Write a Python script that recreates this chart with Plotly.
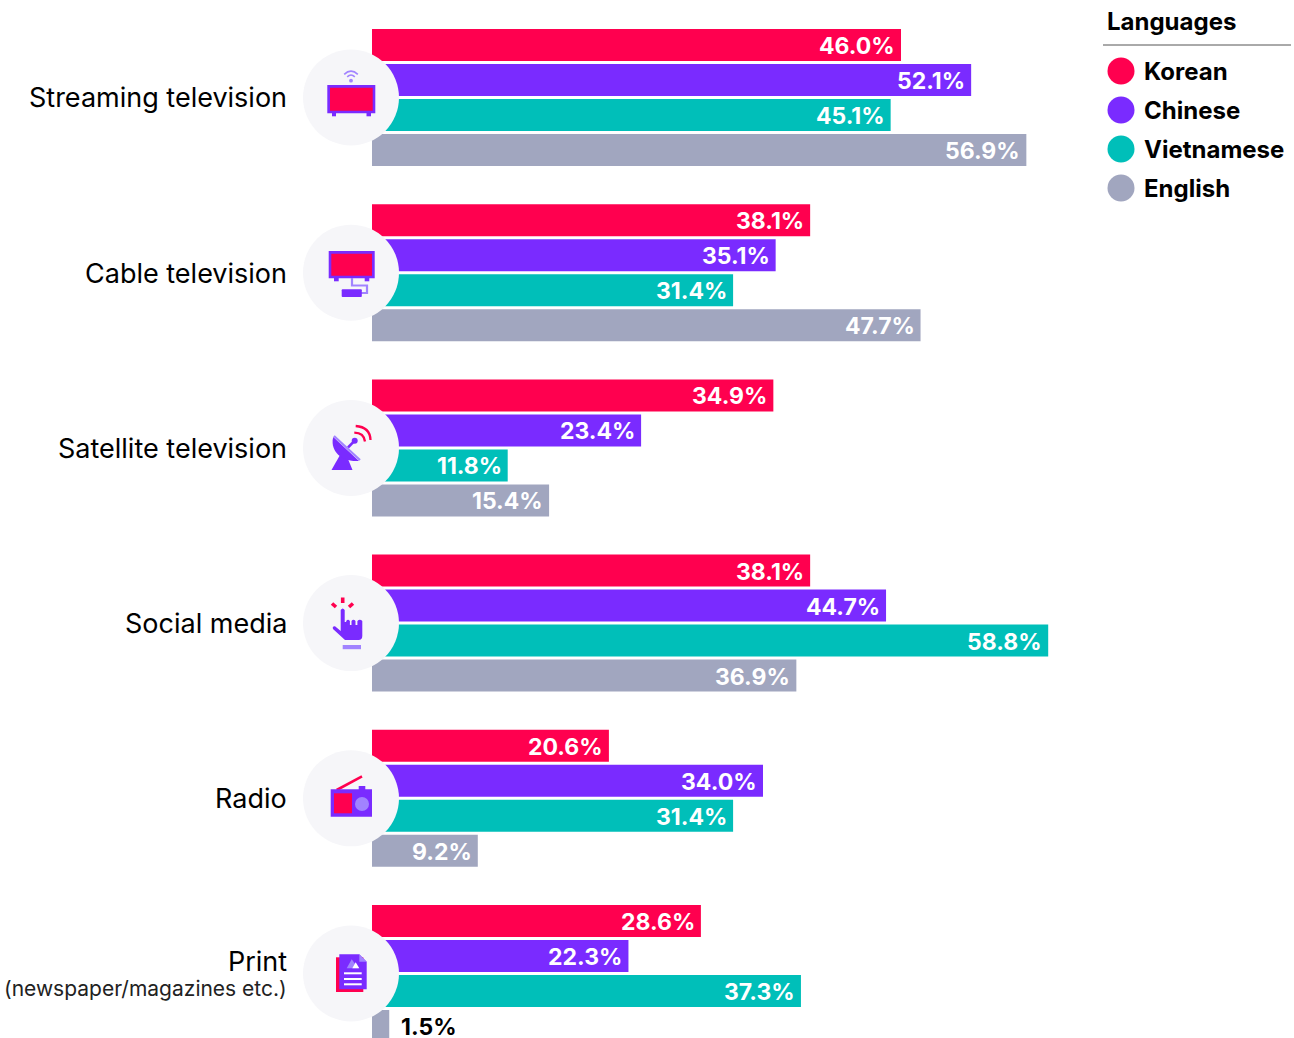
import re
import plotly.graph_objects as go

# Survey data: share of respondents by media channel and language
channels = ["Streaming television", "Cable television", "Satellite television",
            "Social media", "Radio", "Print"]
print_note = "(newspaper/magazines etc.)"
korean = [46.0, 38.1, 34.9, 38.1, 20.6, 28.6]
chinese = [52.1, 35.1, 23.4, 44.7, 34.0, 22.3]
vietnamese = [45.1, 31.4, 11.8, 58.8, 31.4, 37.3]
english = [56.9, 47.7, 15.4, 36.9, 9.2, 1.5]
languages = ["Korean", "Chinese", "Vietnamese", "English"]
series = [korean, chinese, vietnamese, english]

RED, PURPLE, TEAL, GRAY = "#FF004F", "#7A2BFF", "#00BFB9", "#A1A6BF"
LIGHT = "#A183FF"
colors = [RED, PURPLE, TEAL, GRAY]

W, H = 1294, 1038
BAR_LEFT = 372
PX_PER_UNIT = 11.5
GROUP_TOP, GROUP_PITCH, BAR_PITCH = 97.5, 175.2, 35.0
FONT = "Inter"


def px(x):
    return x / W


def py(y):
    return 1 - y / H


def path(d):
    """Convert a pixel-space SVG path into paper coordinates."""
    count = [0]

    def repl(m):
        v = float(m.group())
        i = count[0]
        count[0] += 1
        return f"{px(v) if i % 2 == 0 else py(v):.5f}"

    return re.sub(r"-?\d+\.?\d*", repl, d)


shapes = []


def fill(d, color):
    shapes.append(dict(type="path", xref="paper", yref="paper", path=path(d),
                       fillcolor=color, line=dict(width=0), layer="above"))


def stroke(d, color, width):
    shapes.append(dict(type="path", xref="paper", yref="paper", path=path(d),
                       line=dict(color=color, width=width), layer="above"))


def rect(x0, y0, x1, y1, color):
    fill(f"M {x0} {y0} L {x1} {y0} L {x1} {y1} L {x0} {y1} Z", color)


def circle(cx, cy, r, color):
    shapes.append(dict(type="circle", xref="paper", yref="paper",
                       x0=px(cx - r), x1=px(cx + r), y0=py(cy + r), y1=py(cy - r),
                       fillcolor=color, line=dict(width=0), layer="above"))


# Round backdrops behind the channel icons
for i in range(len(channels)):
    circle(351, GROUP_TOP + GROUP_PITCH * i, 48, "#F6F6F9")

# Streaming television icon
rect(327.3, 85, 375.3, 113.3, PURPLE)
rect(330, 87.7, 372.7, 110.7, RED)
rect(332, 113, 336, 116.3, PURPLE)
rect(366.5, 113, 371, 116.3, PURPLE)
circle(351, 80.7, 1.9, LIGHT)
stroke("M 347.2 76.8 Q 351 73.2 354.8 76.8", LIGHT, 1.6)
stroke("M 344.2 74.4 Q 351 68 357.8 74.4", LIGHT, 1.6)

# Cable television icon
rect(328.7, 251, 374.7, 278.3, PURPLE)
rect(331.3, 253.7, 372, 275.7, RED)
rect(334, 278, 338.7, 281.3, PURPLE)
rect(364.7, 278, 369.3, 281.3, PURPLE)
stroke("M 352 278 L 352 285.5 L 367 285.5 L 367 293 L 361 293", LIGHT, 2.2)
fill("M 342.5 289.3 L 361 289.3 Q 361.8 289.3 361.8 290.3 L 361.8 296 Q 361.8 297 361 297 "
     "L 342.5 297 Q 341.7 297 341.7 296 L 341.7 290.3 Q 341.7 289.3 342.5 289.3 Z", PURPLE)

# Satellite television icon
stroke("M 354.3 432.7 Q 364 433 365 441.5", RED, 2.3)
stroke("M 355.7 426 Q 370 427 370.5 440", RED, 2.3)
stroke("M 354.7 440.7 L 348 447.5", PURPLE, 2.6)
circle(354.7, 440.7, 3, PURPLE)
fill("M 340 455 L 331.5 470 L 352.5 470 L 348 459 Z", PURPLE)
fill("M 333.3 437 C 330 448 338 462 359 461 Z", PURPLE)
stroke("M 334 436 L 360 460", LIGHT, 2.2)

# Social media icon
stroke("M 342.7 597.5 L 342.7 603", RED, 3.6)
stroke("M 332 603.5 L 336 607", RED, 3.6)
stroke("M 353 603.5 L 349 607", RED, 3.6)
fill("M 340.7 610 Q 342.7 606.8 344.7 610 L 344.7 622 L 346.2 622 L 346.2 621 Q 348 618.5 349.9 621 "
     "L 349.9 625 L 351.5 625 L 351.5 621 Q 353.5 618.5 355.5 621 L 355.5 625 L 357.4 625 L 357.4 621 "
     "Q 359.8 618.5 362.3 621 L 362.3 636 Q 362.3 640 358.5 640 L 345 640 L 333 629 "
     "Q 332 626 335 626.2 L 340.7 631 Z", PURPLE)
rect(342.7, 645, 361, 649.2, LIGHT)

# Radio icon
stroke("M 336.7 790 L 362 776.3", RED, 2.6)
rect(358.7, 786, 365.3, 790, PURPLE)
rect(330.7, 789.3, 372, 816.7, PURPLE)
rect(334, 793.3, 352, 813.3, RED)
circle(362, 804, 7, LIGHT)

# Print icon
rect(336, 957.3, 363.3, 992, RED)
fill("M 339.3 954.3 L 359.3 954.3 L 366.7 961.7 L 366.7 989.3 L 339.3 989.3 Z", PURPLE)
fill("M 359.3 954.3 L 366.7 961.7 L 359.3 961.7 Z", LIGHT)
fill("M 346.7 968.3 L 351.7 959.3 L 358.3 968.3 Z", LIGHT)
fill("M 352.3 968.3 L 355.7 962.3 L 359.3 968.3 Z", "#FFFFFF")
for y in (973.3, 979, 984.3):
    rect(344, y - 1, 361.7, y + 1, "#FFFFFF")

# Legend rule and swatches
shapes.append(dict(type="line", xref="paper", yref="paper", x0=px(1103), x1=px(1291),
                   y0=py(45), y1=py(45), line=dict(color="#555555", width=1), layer="above"))
for i, c in enumerate(colors):
    circle(1121, 71 + 39 * i, 13.5, c)


def page_text(x, y, text, size, xanchor="left", color="#000000"):
    return dict(xref="paper", yref="paper", x=px(x), y=py(y), text=text, showarrow=False,
                xanchor=xanchor, yanchor="middle",
                font=dict(family=FONT, size=size, color=color))


annotations = [page_text(1105, 22, "<b>Languages</b>", 24)]
for i, name in enumerate(languages):
    annotations.append(page_text(1142, 71.5 + 39 * i, f"<b>{name}</b>", 24))

# Channel names, right-aligned beside the icons; Print carries a smaller note
for i, ch in enumerate(channels[:-1]):
    annotations.append(page_text(288.5, GROUP_TOP + GROUP_PITCH * i + 0.5, ch, 27, "right"))
annotations.append(page_text(288.5, 961, channels[-1], 27, "right"))
annotations.append(page_text(289, 988.5, print_note, 21, "right", "#222222"))

# Value labels sit inside the bar end unless the bar is too short for them
for s, values in enumerate(series):
    for ch, v in zip(channels, values):
        inside = v > 5
        annotations.append(dict(
            x=v, y=ch, xref="x", yref="y", text=f"<b>{v:.1f}%</b>", showarrow=False,
            xanchor="right" if inside else "left", yanchor="middle",
            xshift=-4 if inside else 10, yshift=-BAR_PITCH * (s - 1.5) - 1,
            font=dict(family=FONT, size=23, color="#FFFFFF" if inside else "#000000")))

fig = go.Figure()
for name, values, c in zip(languages, series, colors):
    fig.add_trace(go.Bar(y=channels, x=values, name=name, orientation="h",
                         marker=dict(color=c, line=dict(width=0)), showlegend=False,
                         hoverinfo="skip"))

fig.update_layout(
    width=W, height=H, margin=dict(l=0, r=0, t=0, b=0, pad=0),
    paper_bgcolor="#FFFFFF", plot_bgcolor="#FFFFFF", barmode="group",
    bargap=1 - 4 * BAR_PITCH / GROUP_PITCH, bargroupgap=3 / BAR_PITCH,
    shapes=shapes, annotations=annotations,
    xaxis=dict(domain=[BAR_LEFT / W, 1], range=[0, (W - BAR_LEFT) / PX_PER_UNIT], visible=False),
    yaxis=dict(type="category", categoryorder="array", categoryarray=channels,
               range=[(H - GROUP_TOP) / GROUP_PITCH, -GROUP_TOP / GROUP_PITCH],
               showticklabels=False, ticks="", showgrid=False, zeroline=False, showline=False),
)

fig.write_html("out.html")
